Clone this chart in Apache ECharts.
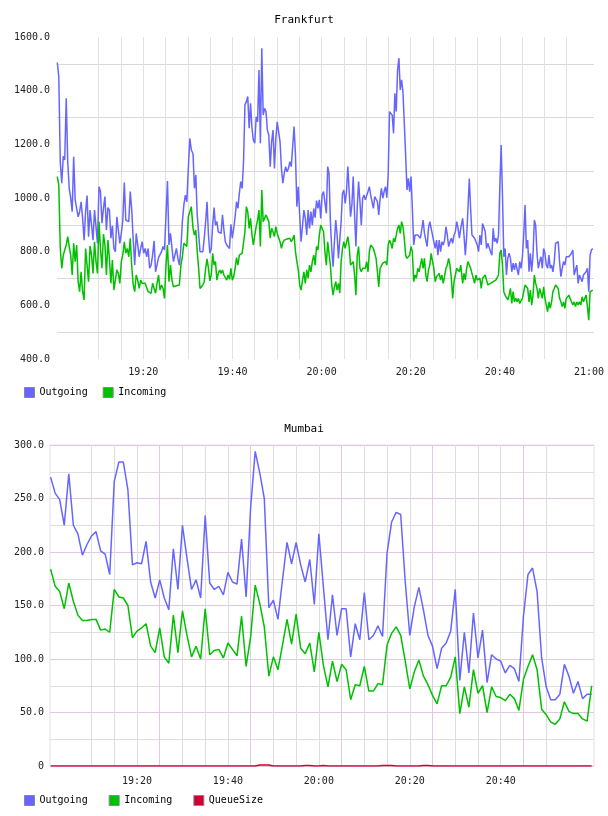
<!DOCTYPE html>
<html>
<head>
<meta charset="utf-8">
<script src="https://cdn.jsdelivr.net/npm/echarts@6/dist/echarts.min.js"></script>
<style>
html,body{margin:0;padding:0;background:#fff;}
#chart{width:608px;height:816px;}
</style>
</head>
<body>
<div id="chart"></div>
<script>
// ---------------- DATA ----------------
const titles = ['Frankfurt', 'Mumbai'];
const legendFrankfurt = ['Outgoing', 'Incoming'];
const legendMumbai = ['Outgoing', 'Incoming', 'QueueSize'];

// tick labels
const fraTickLabels = ['19:20', '19:40', '20:00', '20:20', '20:40', '21:00'];
const mumTickLabels = ['19:20', '19:40', '20:00', '20:20', '20:40'];
// vertical grid lines (every 5 minutes)
const fraGridFrom = '19:05', fraGridTo = '21:00';
const mumGridFrom = '19:05', mumGridTo = '20:55';

// Frankfurt: x-axis span and reading segments (start/end times of each stretch of samples)
const fraAxisMin = '19:00:38';
const fraAxisMax = '21:01:07';
const fraSegStart = ['19:00:42', '19:31:09', '20:01:22', '20:31:21'];
const fraSegEnd   = ['19:30:46', '20:01:04', '20:31:13', '21:00:50'];

const fraOutgoing = [
  [1505,1452,1135,1055,1155,1142,1372,1135,1036,1000,
   949,1154,993,999,930,949,986,924,843,949,
   1009,856,955,961,843,955,959,831,1042,1024,
   906,961,1005,881,964,955,850,896,812,800,
   930,924,831,868,918,1058,918,924,912,1024,
   955,843,750,868,825,781,812,837,794,812,
   781,812,738,750,787,840,725,725,778,773,
   800,819,806,812,1063,825,868,874,763,756,
   812,775,750,812,912,974,1011,986,1110,1222,
   1179],
  [1166,1036,1086,937,930,800,800,800,850,912,
   986,862,794,812,899,964,899,912,874,874,
   868,937,881,837,825,831,812,902,850,887,
   930,986,961,1017,1061,1036,1135,1347,1359,1378,
   1260,1353,1260,1216,1204,1303,1284,1477,1204,1558,
   1309,1334,1322,1253,1235,1117,1210,1253,1110,1222,
   1284,1278,1210,1110,1055,1092,1117,1098,1110,1135,
   1117,1110,1266,1160,968,1042,937,837,831,955,
   924,862,955,887,949,899,961,927,990,961,
   993,924,1011,1024,1024,943],
  [1117,1092,912,812,744,837,918,862,775,775,
   912,1017,1030,980,1024,1117,1024,930,974,1080,
   937,819,968,1061,986,899,999,1011,993,999,
   1024,1042,1011,986,961,1005,999,986,937,999,
   1036,999,1024,1042,1001,1086,1322,1328,1309,1241,
   1390,1322,1477,1521,1403,1440,1396,1278,1160,1030,
   1073,1024,1080,961,825,862,868,862,865,850,
   883,918,868,874,819,887,912,887,862,862,
   812,843,787,843,800,837,825,843,893,862,
   819,837,850,831,862,874,912,887,850,887],
  [887,924,862,787,856,961,1073,961,862,856,
   850,837,825,800,862,825,905,899,874,812,
   831,837,800,787,887,837,850,831,862,1042,
   1197,1011,781,812,713,775,794,775,725,757,
   732,757,750,713,763,738,781,862,974,812,
   843,725,794,725,787,918,899,794,738,763,
   781,738,812,794,750,738,787,738,750,725,
   763,831,834,837,763,707,738,763,750,781,
   775,781,775,794,806,713,713,750,682,713,
   707,688,713,713,725,738,651,787,806,812]
];

const fraIncoming = [
  [1080,1048,812,738,787,806,825,856,819,787,
   713,831,763,825,688,651,725,651,620,812,
   750,688,822,787,719,837,763,719,912,812,
   738,865,825,713,843,775,682,769,657,661,
   732,719,682,763,787,837,794,812,781,850,
   744,676,651,713,694,663,694,682,688,682,
   688,651,651,645,682,676,645,682,713,657,
   676,663,626,750,825,688,750,694,669,673,
   673,669,676,750,781,831,837,819,930,937,
   968],
  [887,862,881,800,738,663,657,676,688,738,
   773,738,691,713,794,750,763,694,719,732,
   719,732,713,719,694,713,697,738,694,707,
   738,778,750,787,790,794,794,874,968,949,
   887,924,862,825,862,893,918,955,819,1030,
   912,918,937,924,912,850,887,874,856,893,
   868,874,837,812,834,843,843,847,843,850,
   837,847,862,800,763,732,676,657,694,725,
   682,732,701,750,725,763,787,750,819,806,
   862,899,905,874,800,750],
  [837,831,750,676,638,669,688,657,682,645,
   763,812,837,812,806,856,819,750,744,763,
   713,638,787,819,738,725,738,732,738,763,
   725,800,825,819,812,794,775,725,669,738,
   744,757,750,763,750,825,843,831,812,850,
   837,862,887,899,868,912,893,850,787,775,
   769,787,819,800,688,713,701,738,725,750,
   775,738,775,713,688,732,750,794,763,738,
   688,707,701,719,694,713,682,688,738,750,
   775,750,701,626,688,713,738,744,725,750],
  [757,682,719,694,738,763,763,738,719,713,
   682,713,694,688,701,663,701,701,713,694,
   676,682,682,676,688,682,694,688,713,794,
   806,750,651,638,645,620,638,663,607,651,
   613,626,613,626,607,613,626,651,676,678,
   663,613,657,601,638,713,682,663,626,663,
   645,626,669,626,601,576,613,589,613,651,
   663,676,676,663,626,613,595,613,589,626,
   626,638,645,613,601,613,595,613,601,613,
   601,632,613,607,638,595,545,651,657,657]
];

// Frankfurt y-axis
const fraYMin = 400, fraYMax = 1600;

// Mumbai: one sample per minute starting at 19:01
const mumAxisMin = '19:00:52';
const mumAxisMax = '21:00:31';
const mumStart = '19:01:00';
const mumOutgoing = [
  270,255,249,225,273,225,217,197,207,215,
  219,201,198,179,266,284,284,258,188,190,
  189,210,172,157,174,157,146,203,165,225,
  194,165,174,157,234,171,165,168,160,181,
  172,170,212,158,242,294,274,250,148,155,
  137,174,209,189,209,188,172,193,151,217,
  167,118,160,122,147,147,102,133,118,162,
  118,122,131,121,199,228,237,235,172,122,
  149,167,146,122,112,91,110,115,126,165,
  80,125,87,143,101,127,78,104,100,98,
  87,94,91,79,140,179,185,163,101,74,
  62,62,67,95,84,68,79,63,67,67
];
const mumIncoming = [
  184,168,163,147,171,154,141,136,136,137,
  137,127,128,125,165,158,157,150,120,126,
  129,133,112,106,129,102,96,141,106,145,
  122,102,112,100,147,104,108,109,101,115,
  109,103,140,93,121,169,152,130,84,102,
  90,113,137,114,142,110,105,115,88,125,
  94,74,98,79,95,90,62,76,75,93,
  70,70,77,76,113,124,130,122,98,72,
  88,99,84,76,66,58,75,75,83,102,
  49,74,55,90,68,75,50,74,65,64,
  61,67,63,52,81,93,104,90,53,48,
  41,39,44,60,51,49,49,44,42,75
];
const mumQueueSize = [
  0,0,0,0,0,0,0,0,0,0,
  0,0,0,0,0,0,0,0,0,0,
  0,0,0,0,0,0,0,0,0,0,
  0,0,0,0,0,0,0,0,0,0,
  0,0,0,0,0,0,1,1,1,0,
  0,0,0,0,0,0,0.5,0.5,0,0,
  0.5,0,0,0,0,0,0,0,0,0,
  0,0,0,0.5,0.5,0.5,0,0,0,0,
  0,0,0.5,0.5,0,0,0,0,0,0,
  0,0,0,0,0,0,0,0,0,0,
  0,0,0,0,0,0,0,0,0,0,
  0,0,0,0,0,0,0,0,0,0
];
const mumYMin = 0, mumYMax = 300;

// ---------------- BUILD ----------------
const FONT = 'DejaVu Sans Mono';
const C_OUT = '#6666ff', C_IN = '#00c000', C_Q = '#cc0033';
const MIN = 60000;

function ts(hms) {
  const p = hms.split(':').map(Number);
  return Date.UTC(2020, 0, 1, p[0], p[1], p[2] || 0);
}
function pad(n) { return (n < 10 ? '0' : '') + n; }
function fmtTime(v) { const d = new Date(v); return pad(d.getUTCHours()) + ':' + pad(d.getUTCMinutes()); }
function every5(from, to) {
  const out = [];
  for (let t = ts(from); t <= ts(to); t += 5 * MIN) out.push(t);
  return out;
}

function buildSegments(segs) {
  const out = [];
  segs.forEach((vals, k) => {
    const a = ts(fraSegStart[k]), b = ts(fraSegEnd[k]);
    const n = vals.length;
    vals.forEach((v, i) => out.push([a + (b - a) * i / (n - 1), v]));
  });
  return out;
}
function buildMinutes(vals) {
  const a = ts(mumStart);
  return vals.map((v, i) => [a + i * MIN, v]);
}

const axisLabelStyle = { fontFamily: FONT, fontSize: 10, color: '#222' };

function xAxisDef(grid, min, max, labels, gridFrom, gridTo, colors, margin) {
  return {
    type: 'value', gridIndex: grid, min: ts(min), max: ts(max), scale: true,
    axisLine: { show: false },
    axisTick: { show: false, customValues: every5(gridFrom, gridTo) },
    axisLabel: Object.assign({ margin: margin, formatter: fmtTime, hideOverlap: false,
      showMinLabel: true, showMaxLabel: true,
      customValues: labels.map(ts) }, axisLabelStyle),
    splitLine: { show: true, showMinLine: false, showMaxLine: false, lineStyle: { color: colors, width: 1 } }
  };
}
function lineSeries(name, color, x, y, data) {
  return {
    type: 'line', name: name, xAxisIndex: x, yAxisIndex: y, data: data,
    showSymbol: false, symbol: 'none', color: color,
    lineStyle: { color: color, width: 1.5 }, itemStyle: { color: color },
    animation: false, silent: true
  };
}

const option = {
  animation: false,
  backgroundColor: '#fff',
  title: [
    { text: titles[0], left: 'center', top: 15, padding: 0,
      textStyle: { fontFamily: FONT, fontSize: 11, fontWeight: 'normal', color: '#000' } },
    { text: titles[1], left: 'center', top: 424, padding: 0,
      textStyle: { fontFamily: FONT, fontSize: 11, fontWeight: 'normal', color: '#000' } }
  ],
  legend: [
    { data: legendFrankfurt, left: 24, top: 387, padding: 0, itemGap: 15, itemWidth: 10, itemHeight: 10,
      icon: 'rect', itemStyle: { borderColor: '#888', borderWidth: 1 },
      textStyle: { fontFamily: FONT, fontSize: 10, color: '#000' }, selectedMode: false },
    { data: legendMumbai, left: 24, top: 795, padding: 0, itemGap: 21, itemWidth: 10, itemHeight: 10,
      icon: 'rect', itemStyle: { borderColor: '#888', borderWidth: 1 },
      textStyle: { fontFamily: FONT, fontSize: 10, color: '#000' }, selectedMode: false }
  ],
  grid: [
    { left: 57, right: 14, top: 37, height: 322, containLabel: false, show: false },
    { left: 50, right: 14, top: 445, height: 321, containLabel: false, show: true,
      borderColor: '#ecdcec', borderWidth: 1, backgroundColor: 'rgba(0,0,0,0)' }
  ],
  xAxis: [
    xAxisDef(0, fraAxisMin, fraAxisMax, fraTickLabels, fraGridFrom, fraGridTo, ['#e2e2e2'], 8),
    xAxisDef(1, mumAxisMin, mumAxisMax, mumTickLabels, mumGridFrom, mumGridTo,
             ['#dedede', '#dedede', '#dedede', '#e2c8e2'], 10)
  ],
  yAxis: [
    { type: 'value', gridIndex: 0, min: fraYMin, max: fraYMax, interval: 100,
      axisLine: { show: false }, axisTick: { show: false },
      axisLabel: Object.assign({ margin: 7, formatter: v => (v % 200 === 0 ? v.toFixed(1) : '') }, axisLabelStyle),
      splitLine: { show: true, lineStyle: { color: ['rgba(0,0,0,0)', '#d9d9d9'], width: 1 } } },
    { type: 'value', gridIndex: 1, min: mumYMin, max: mumYMax, interval: 25,
      axisLine: { show: false }, axisTick: { show: false },
      axisLabel: Object.assign({ margin: 6, formatter: v => (v === 0 ? '0' : (v % 50 === 0 ? v.toFixed(1) : '')) }, axisLabelStyle),
      splitLine: { show: true, lineStyle: { color: ['#e2c8e2', '#dedede'], width: 1 } } }
  ],
  series: [
    lineSeries('Outgoing', C_OUT, 0, 0, buildSegments(fraOutgoing)),
    lineSeries('Incoming', C_IN, 0, 0, buildSegments(fraIncoming)),
    lineSeries('Outgoing', C_OUT, 1, 1, buildMinutes(mumOutgoing)),
    lineSeries('Incoming', C_IN, 1, 1, buildMinutes(mumIncoming)),
    lineSeries('QueueSize', C_Q, 1, 1, buildMinutes(mumQueueSize))
  ]
};

const chart = echarts.init(document.getElementById('chart'), null, { renderer: 'canvas', width: 608, height: 816 });
chart.setOption(option);
</script>
</body>
</html>
